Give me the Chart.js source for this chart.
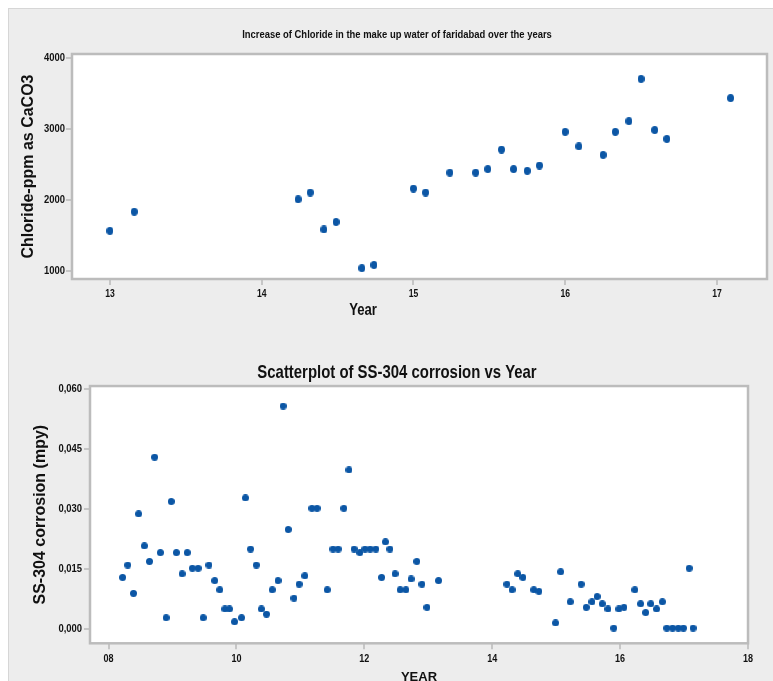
<!DOCTYPE html>
<html>
<head>
<meta charset="utf-8">
<script src="https://cdn.jsdelivr.net/npm/chart.js@4.4.0/dist/chart.umd.min.js"></script>
<style>
  html, body { margin: 0; padding: 0; background: #fff; width: 773px; height: 681px; overflow: hidden; }
  #panel { position: absolute; left: 8px; top: 8px; width: 765px; height: 673px; background: #ededed;
           border-top: 1px solid #d6d6d6; border-left: 1px solid #d6d6d6; box-sizing: border-box; }
  .box { position: absolute; left: 0; }
  #topBox { top: 0; }
  #botBox { top: 330px; }
</style>
</head>
<body>
<div id="panel"></div>
<div class="box" id="topBox"><canvas id="chloride" width="773" height="330"></canvas></div>
<div class="box" id="botBox"><canvas id="corrosion" width="773" height="370"></canvas></div>
<script>
// chloride in make up water
var chlorideYears = [13.00, 13.16, 14.24, 14.32, 14.41, 14.49, 14.66, 14.74, 15.00, 15.08, 15.24, 15.41, 15.49,
                     15.58, 15.66, 15.75, 15.83, 16.00, 16.09, 16.25, 16.33, 16.42, 16.50, 16.59, 16.67, 17.09];
var chlorideValues = [1565, 1835, 2010, 2105, 1585, 1690, 1040, 1085, 2160, 2105, 2385, 2385, 2435,
                      2710, 2435, 2410, 2485, 2960, 2755, 2635, 2960, 3110, 3705, 2985, 2860, 3435];
var chlorideXTicks = [13, 14, 15, 16, 17];
var chlorideXLabels = ['13', '14', '15', '16', '17'];
var chlorideYTicks = [1000, 2000, 3000, 4000];
var chlorideYLabels = ['1000', '2000', '3000', '4000'];

// SS-304 corrosion
var corrosionYears = [8.22, 8.30, 8.39, 8.47, 8.56, 8.64, 8.72, 8.81, 8.90, 8.98, 9.06, 9.15, 9.23, 9.31, 9.40,
                      9.48, 9.57, 9.66, 9.74, 9.82, 9.89, 9.97, 10.08, 10.14, 10.22, 10.31, 10.39, 10.47, 10.56,
                      10.65, 10.73, 10.81, 10.90, 10.98, 11.07, 11.18, 11.26, 11.42, 11.51, 11.59, 11.68, 11.76,
                      11.84, 11.93, 12.01, 12.09, 12.18, 12.27, 12.33, 12.40, 12.48, 12.56, 12.65, 12.73, 12.82,
                      12.90, 12.98, 13.16, 14.23, 14.31, 14.40, 14.48, 14.65, 14.73, 14.99, 15.07, 15.22, 15.39,
                      15.47, 15.56, 15.64, 15.72, 15.81, 15.90, 15.98, 16.06, 16.23, 16.32, 16.40, 16.48, 16.57,
                      16.66, 16.73, 16.82, 16.91, 16.99, 17.08, 17.14];
var corrosionValues = [0.0129, 0.0160, 0.0089, 0.0288, 0.0208, 0.0169, 0.0430, 0.0191, 0.0028, 0.0319, 0.0191,
                       0.0138, 0.0191, 0.0152, 0.0152, 0.0028, 0.0160, 0.0121, 0.0098, 0.0050, 0.0050, 0.0018,
                       0.0028, 0.0328, 0.0200, 0.0160, 0.0050, 0.0037, 0.0098, 0.0121, 0.0558, 0.0249, 0.0077,
                       0.0112, 0.0133, 0.0302, 0.0302, 0.0098, 0.0200, 0.0200, 0.0302, 0.0398, 0.0200, 0.0191,
                       0.0200, 0.0200, 0.0200, 0.0129, 0.0218, 0.0200, 0.0138, 0.0098, 0.0098, 0.0125, 0.0169,
                       0.0112, 0.0054, 0.0121, 0.0112, 0.0098, 0.0138, 0.0129, 0.0098, 0.0094, 0.0015, 0.0143,
                       0.0068, 0.0112, 0.0054, 0.0068, 0.0081, 0.0063, 0.0050, 0.0002, 0.0050, 0.0054, 0.0098,
                       0.0063, 0.0041, 0.0063, 0.0050, 0.0068, 0.0002, 0.0002, 0.0002, 0.0002, 0.0152, 0.0002];
var corrosionXTicks = [8, 10, 12, 14, 16, 18];
var corrosionXLabels = ['08', '10', '12', '14', '16', '18'];
var corrosionYTicks = [0, 0.015, 0.03, 0.045, 0.06];
var corrosionYLabels = ['0,000', '0,015', '0,030', '0,045', '0,060'];

// no narrow face installed: text set in this family gets squeezed by hand
var NARROW = "'Arial Narrow', 'Liberation Sans', sans-serif";
var WIDE = "'Liberation Sans', Arial, sans-serif";
var DOT = '#0b56a5';
var FRAME = '#bcbcbc';

function squeezeText(canvas, factor) {
	var ctx = canvas.getContext('2d');
	var fill = ctx.fillText;
	ctx.fillText = function(text, x, y, maxWidth) {
		if (this.font.indexOf('Narrow') < 0) return fill.call(this, text, x, y, maxWidth);
		this.save();
		this.translate(x, y);
		this.scale(factor, 1);
		fill.call(this, text, 0, 0);
		this.restore();
	};
	return canvas;
}

function makeDot(w, h) {
	var c = document.createElement('canvas');
	c.width = w; c.height = h;
	var g = c.getContext('2d');
	g.fillStyle = DOT;
	g.beginPath();
	g.ellipse(w / 2, h / 2, w / 2, h / 2, 0, 0, Math.PI * 2);
	g.fill();
	return c;
}

function pairs(xs, ys) {
	return xs.map(function(x, i) { return { x: x, y: ys[i] }; });
}

// white plot area with grey frame
var plotFrame = {
	id: 'plotFrame',
	beforeDatasetsDraw: function(chart) {
		var a = chart.chartArea, ctx = chart.ctx;
		ctx.save();
		ctx.fillStyle = '#ffffff';
		ctx.fillRect(a.left, a.top, a.right - a.left, a.bottom - a.top);
		ctx.strokeStyle = FRAME;
		ctx.lineWidth = 2.5;
		ctx.strokeRect(a.left, a.top, a.right - a.left, a.bottom - a.top);
		ctx.restore();
	}
};

// axis name that is not centred under the axis
var axisNote = {
	id: 'axisNote',
	afterDraw: function(chart, args, opts) {
		if (!opts.text) return;
		var ctx = chart.ctx;
		ctx.save();
		ctx.font = opts.font;
		ctx.fillStyle = '#111';
		ctx.textAlign = 'center';
		ctx.textBaseline = 'middle';
		ctx.fillText(opts.text, opts.x, opts.y);
		ctx.restore();
	}
};

function tickSetup(values) {
	return function(scale) {
		scale.ticks = values.map(function(v) { return { value: v }; });
	};
}

// empty box on the right, keeps the plot narrower than the title line
function spacer(w) {
	return {
		position: 'right', display: true,
		afterFit: function(s) { s.width = w; },
		ticks: { display: false }, grid: { display: false }, border: { display: false }
	};
}

var tickGrid = { display: true, drawOnChartArea: false, drawTicks: true, tickLength: 6, color: '#c6c6c6', lineWidth: 2 };

var chlorideChart = new Chart(squeezeText(document.getElementById('chloride'), 0.82), {
	type: 'scatter',
	data: {
		datasets: [{
			data: pairs(chlorideYears, chlorideValues),
			pointStyle: makeDot(7, 8),
			backgroundColor: DOT,
			borderWidth: 0
		}]
	},
	options: {
		responsive: false,
		animation: false,
		layout: { padding: { left: 21, right: 0, top: 0, bottom: 0 } },
		plugins: {
			legend: false,
			tooltip: false,
			title: {
				display: true,
				text: 'Increase of Chloride in the make up water of faridabad over the years',
				color: '#111',
				font: { family: NARROW, size: 11.5, weight: 'bold' },
				padding: { top: 27.6, bottom: 12.6 }
			},
			axisNote: { text: 'Year', x: 363, y: 311, font: 'bold 16px ' + NARROW }
		},
		scales: {
			x: {
				type: 'linear',
				min: 12.75, max: 17.33,
				afterBuildTicks: tickSetup(chlorideXTicks),
				afterFit: function(s) { s.height = 51; },
				ticks: {
					callback: function(v, i) { return chlorideXLabels[i]; },
					color: '#111', font: { family: NARROW, size: 10.5, weight: 'bold' },
					padding: 3, maxRotation: 0
				},
				grid: tickGrid,
				border: { display: false }
			},
			y: {
				min: 887, max: 4056,
				afterBuildTicks: tickSetup(chlorideYTicks),
				afterFit: function(s) { s.width = 51; },
				ticks: {
					callback: function(v, i) { return chlorideYLabels[i]; },
					color: '#111', font: { family: NARROW, size: 11.5, weight: 'bold' },
					padding: 1
				},
				title: {
					display: true, text: 'Chloride-ppm as CaCO3', color: '#111',
					font: { family: WIDE, size: 16, weight: 'bold', lineHeight: 1 },
					padding: { top: 0, bottom: 0 }
				},
				grid: tickGrid,
				border: { display: false }
			},
			pad: spacer(6)
		}
	},
	plugins: [plotFrame, axisNote]
});

var corrosionChart = new Chart(squeezeText(document.getElementById('corrosion'), 0.82), {
	type: 'scatter',
	data: {
		datasets: [{
			data: pairs(corrosionYears, corrosionValues),
			pointStyle: makeDot(7, 7),
			backgroundColor: DOT,
			borderWidth: 0
		}]
	},
	options: {
		responsive: false,
		animation: false,
		layout: { padding: { left: 21, right: 0, top: 0, bottom: 0 } },
		plugins: {
			legend: false,
			tooltip: false,
			title: {
				display: true,
				text: 'Scatterplot of SS-304 corrosion vs Year',
				color: '#111',
				font: { family: NARROW, size: 18.2, weight: 'bold' },
				padding: { top: 32, bottom: 2.2 }
			}
		},
		scales: {
			x: {
				type: 'linear',
				min: 7.71, max: 18,
				afterBuildTicks: tickSetup(corrosionXTicks),
				afterFit: function(s) { s.height = 56.7; },
				ticks: {
					callback: function(v, i) { return corrosionXLabels[i]; },
					color: '#111', font: { family: NARROW, size: 11, weight: 'bold' },
					padding: 3, maxRotation: 0
				},
				title: {
					display: true, text: 'YEAR', color: '#111',
					font: { family: WIDE, size: 13, weight: 'bold', lineHeight: 1 },
					padding: { top: 0, bottom: 16.5 }
				},
				grid: tickGrid,
				border: { display: false }
			},
			y: {
				min: -0.0036, max: 0.0608,
				afterBuildTicks: tickSetup(corrosionYTicks),
				afterFit: function(s) { s.width = 69; },
				ticks: {
					callback: function(v, i) { return corrosionYLabels[i]; },
					color: '#111', font: { family: NARROW, size: 11.5, weight: 'bold' },
					padding: 2
				},
				title: {
					display: true, text: 'SS-304 corrosion (mpy)', color: '#111',
					font: { family: WIDE, size: 16, weight: 'bold', lineHeight: 1 },
					padding: { top: 12, bottom: 0 }
				},
				grid: tickGrid,
				border: { display: false }
			},
			pad: spacer(25)
		}
	},
	plugins: [plotFrame]
});
</script>
</body>
</html>
